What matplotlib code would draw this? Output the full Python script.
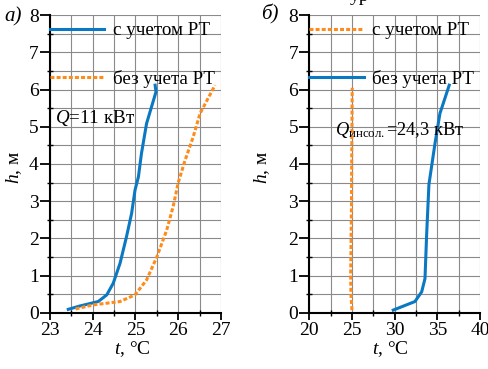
import matplotlib
matplotlib.use("Agg")
import matplotlib.pyplot as plt
from matplotlib.ticker import MultipleLocator

plt.rcParams['font.family'] = ['Liberation Serif', 'DejaVu Serif']
plt.rcParams['mathtext.fontset'] = 'custom'
plt.rcParams['mathtext.rm'] = 'Liberation Serif'
plt.rcParams['mathtext.it'] = 'Liberation Serif:italic'
plt.rcParams['font.size'] = 14

# panel a: Q = 11 kW
a_with_t = [23.43, 23.70, 24.13, 24.33, 24.48, 24.64, 24.79, 24.91, 24.99, 25.07,
            25.14, 25.26, 25.48, 25.46]
a_with_h = [0.09, 0.18, 0.30, 0.48, 0.79, 1.33, 2.04, 2.67, 3.30, 3.66,
            4.28, 5.09, 5.94, 6.12]
a_without_t = [23.60, 24.01, 24.64, 24.99, 25.26, 25.50, 25.73, 25.88, 26.00, 26.16,
               26.35, 26.51, 26.86]
a_without_h = [0.10, 0.21, 0.30, 0.48, 0.88, 1.50, 2.22, 2.85, 3.50, 4.10,
               4.73, 5.36, 6.12]

# panel b: Q insol = 24.3 kW
b_with_t = [25.00, 24.88, 24.85, 24.90, 24.95, 24.97, 25.00, 25.03]
b_with_h = [0.07, 0.50, 1.00, 2.00, 3.00, 4.00, 5.00, 6.05]
b_without_t = [29.84, 32.38, 33.17, 33.56, 33.75, 34.02, 34.73, 35.31, 36.40]
b_without_h = [0.07, 0.30, 0.56, 0.92, 2.09, 3.45, 4.55, 5.36, 6.12]

blue = '#0a78c2'
orange = '#ff8c1a'
dots = (0, (1.3, 0.7))

fig = plt.figure(figsize=(4.89, 3.69), dpi=100)
ax1 = fig.add_axes([0.102, 0.1526, 0.350, 0.806])
ax2 = fig.add_axes([0.6325, 0.1526, 0.349, 0.806])


def style_axes(ax, xmin, xmax, xmaj, xmin_step, ylab_x, xlab_x):
    ax.set_xlim(xmin, xmax)
    ax.set_ylim(0, 8)
    ax.xaxis.set_major_locator(MultipleLocator(xmaj))
    ax.xaxis.set_minor_locator(MultipleLocator(xmin_step))
    ax.yaxis.set_major_locator(MultipleLocator(1))
    ax.yaxis.set_minor_locator(MultipleLocator(0.5))
    ax.grid(True, which='both', color='#8a8a8a', lw=0.8)
    ax.set_axisbelow(True)
    for s in ['top', 'right']:
        ax.spines[s].set_visible(False)
    for s in ['left', 'bottom']:
        ax.spines[s].set_linewidth(1.5)
    ax.tick_params(axis='y', which='major', direction='out', length=7, width=1.3, pad=1)
    ax.tick_params(axis='x', which='major', direction='out', length=5, width=1.3, pad=2)
    ax.tick_params(which='minor', direction='inout', length=5, width=1.0)
    ax.set_xlabel(r'$t$, °C')
    ax.set_ylabel(r'$h$, м')
    ax.yaxis.set_label_coords(ylab_x, 0.49)
    ax.xaxis.set_label_coords(xlab_x, -0.09)


style_axes(ax1, 23, 27, 1, 0.5, -0.15, 0.48)
style_axes(ax2, 20, 40, 5, 2.5, -0.22, 0.473)

ax1.plot(a_with_t, a_with_h, color=blue, lw=2.2, label='с учетом РТ')
ax1.plot(a_without_t, a_without_h, color=orange, lw=2.2, ls=dots, label='без учета РТ')
ax2.plot(b_with_t, b_with_h, color=orange, lw=2.2, ls=dots, label='с учетом РТ')
ax2.plot(b_without_t, b_without_h, color=blue, lw=2.2, label='без учета РТ')

for ax in (ax1, ax2):
    ax.legend(loc='upper left', bbox_to_anchor=(-0.022, 0.99), frameon=False,
              borderaxespad=0, borderpad=0.2, handlelength=2.85,
              handletextpad=0.45, labelspacing=1.6, fontsize=13.7)

ax1.text(23.12, 5.1, r'$Q$=11 кВт', va='baseline', ha='left', fontsize=13.7)
ax2.text(23.0, 4.78, r'$Q_{\mathrm{инсол.}}$=24,3 кВт', va='baseline', ha='left',
         fontsize=13.2)

fig.text(0.008, 0.953, 'а)', style='italic', fontsize=15, va='center', ha='left')
fig.text(0.533, 0.960, 'б)', style='italic', fontsize=15, va='center', ha='left')
fig.text(0.716, 0.997, 'ур', fontsize=14, va='baseline', ha='left')

fig.savefig('out.png', dpi=100)
